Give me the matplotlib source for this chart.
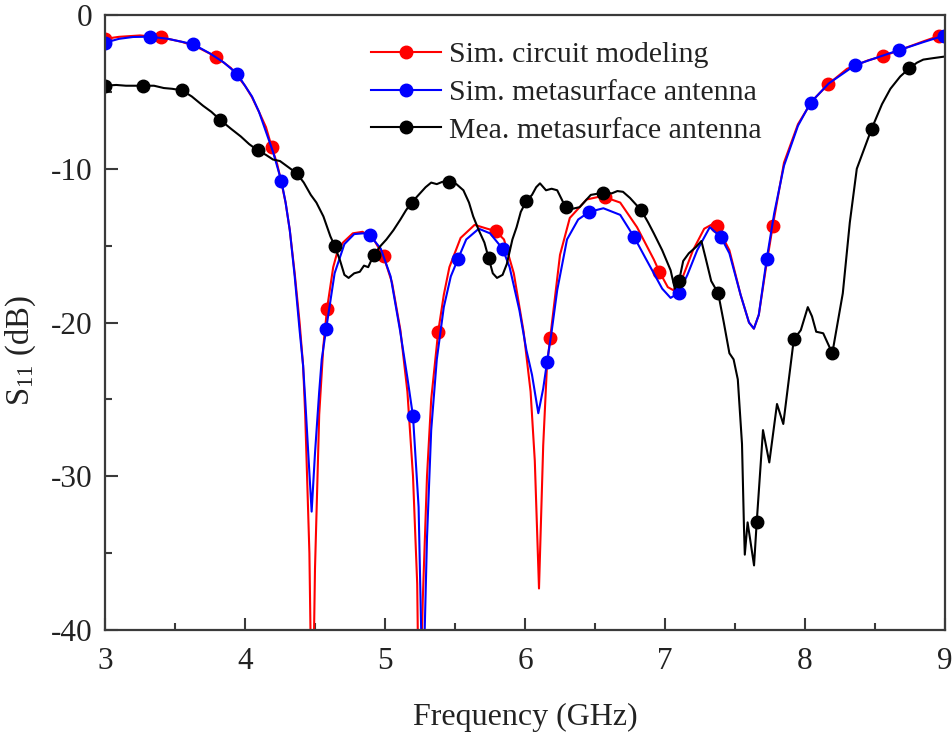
import numpy as np
import matplotlib
matplotlib.use("Agg")
import matplotlib.pyplot as plt

plt.rcParams['font.family'] = ['Liberation Serif', 'DejaVu Serif']
plt.rcParams['mathtext.fontset'] = 'custom'
plt.rcParams['mathtext.rm'] = 'Liberation Serif'
plt.rcParams['mathtext.it'] = 'Liberation Serif:italic'
plt.rcParams['axes.unicode_minus'] = False

# ---- Sim. circuit modeling (red) ----
red_x = [3.00, 3.10, 3.25, 3.40, 3.55, 3.65, 3.79, 3.90, 4.00, 4.05, 4.10, 4.15, 4.19, 4.23, 4.26,
         4.29, 4.32, 4.355, 4.39, 4.415, 4.43, 4.46, 4.48, 4.50, 4.53, 4.56, 4.586, 4.63, 4.66,
         4.70, 4.77, 4.84, 4.92, 4.99, 5.05, 5.11, 5.16, 5.20, 5.23, 5.245, 5.27, 5.30, 5.33,
         5.38, 5.42, 5.46, 5.54, 5.64, 5.73, 5.79, 5.85, 5.92, 5.99, 6.04, 6.07, 6.10, 6.13,
         6.157, 6.18, 6.25, 6.32, 6.44, 6.54, 6.57, 6.68, 6.80, 6.92, 6.96, 7.02, 7.06, 7.12,
         7.20, 7.28, 7.34, 7.37, 7.46, 7.54, 7.60, 7.635, 7.67, 7.72, 7.77, 7.85, 7.95, 8.05,
         8.167, 8.30, 8.45, 8.56, 8.70, 8.85, 8.96, 9.00]
red_y = [-1.55, -1.42, -1.33, -1.45, -1.75, -2.05, -2.70, -3.45, -4.6, -5.35, -6.3, -7.3, -8.56, -9.7, -10.9,
         -12.2, -14.0, -16.8, -20.0, -22.8, -26.0, -35.0, -48.0, -36.0, -26.0, -21.5, -19.1, -16.4, -15.4,
         -14.8, -14.2, -14.1, -14.6, -15.7, -17.4, -20.5, -24.5, -30.0, -37.0, -48.0, -38.0, -30.0, -25.0,
         -20.6, -18.2, -16.4, -14.5, -13.65, -13.9, -14.05, -14.6, -16.8, -20.6, -24.5, -29.0, -37.3, -28.0,
         -22.8, -21.0, -15.6, -13.2, -12.0, -11.8, -11.85, -12.2, -13.8, -15.9, -16.7, -17.7, -17.9, -17.2,
         -15.3, -13.9, -13.6, -13.7, -15.3, -18.2, -20.0, -20.4, -19.5, -16.5, -13.7, -9.6, -7.1, -5.6,
         -4.49, -3.5, -2.95, -2.67, -2.2, -1.7, -1.35, -1.3]
red_marks = [3.00, 3.40, 3.79, 4.19, 4.586, 4.99, 5.38, 5.79, 6.18, 6.57, 6.96, 7.37, 7.77,
             8.167, 8.56, 8.96]

# ---- Sim. metasurface antenna (blue) ----
blue_x = [3.00, 3.10, 3.20, 3.32, 3.45, 3.63, 3.75, 3.85, 3.945, 4.05, 4.10, 4.15, 4.20, 4.26,
          4.29, 4.32, 4.355, 4.39, 4.415, 4.43, 4.455, 4.476, 4.50, 4.53, 4.548, 4.58, 4.64, 4.71,
          4.78, 4.845, 4.89, 4.97, 5.04, 5.107, 5.16, 5.20, 5.24, 5.27, 5.30, 5.33, 5.37, 5.42,
          5.47, 5.52, 5.58, 5.67, 5.75, 5.84, 5.89, 5.96, 6.01, 6.05, 6.095, 6.13, 6.157, 6.19,
          6.23, 6.30, 6.38, 6.46, 6.56, 6.68, 6.78, 6.86, 6.92, 6.98, 7.04, 7.10, 7.16, 7.23,
          7.32, 7.40, 7.46, 7.54, 7.60, 7.635, 7.67, 7.726, 7.78, 7.85, 7.95, 8.04, 8.17, 8.36,
          8.52, 8.674, 8.85, 8.99, 9.00]
blue_y = [-1.8, -1.55, -1.43, -1.41, -1.55, -1.9, -2.5, -3.1, -3.84, -5.3, -6.3, -7.6, -8.9, -10.8,
          -12.2, -14.0, -17.0, -20.5, -22.8, -25.0, -29.0, -32.3, -28.5, -24.5, -22.4, -20.4, -16.8, -14.9,
          -14.25, -14.2, -14.3, -15.2, -17.0, -20.5, -23.6, -26.1, -32.0, -45.0, -34.0, -27.0, -22.4, -19.0,
          -17.0, -15.9, -14.6, -13.9, -14.2, -15.2, -16.4, -19.2, -21.8, -23.4, -25.9, -24.3, -22.6, -20.6,
          -17.9, -14.6, -13.3, -12.8, -12.57, -13.0, -14.45, -15.8, -16.8, -17.8, -18.4, -18.06, -16.9, -15.3,
          -13.8, -14.46, -15.5, -18.2, -20.0, -20.4, -19.5, -15.9, -12.9, -9.8, -7.2, -5.7, -4.45, -3.25,
          -2.75, -2.28, -1.75, -1.35, -1.3]
blue_marks = [3.00, 3.32, 3.63, 3.945, 4.26, 4.58, 4.89, 5.20, 5.52, 5.84, 6.157, 6.46, 6.78,
              7.10, 7.40, 7.726, 8.04, 8.36, 8.674, 8.99]

# ---- Mea. metasurface antenna (black) ----
black_x = [3.00, 3.08, 3.15, 3.27, 3.35, 3.42, 3.48, 3.55, 3.62, 3.70, 3.76, 3.82, 3.90, 3.97,
           4.03, 4.09, 4.15, 4.20, 4.25, 4.31, 4.37, 4.42, 4.47, 4.51, 4.56, 4.61, 4.64, 4.68,
           4.71, 4.74, 4.78, 4.82, 4.85, 4.88, 4.92, 4.97, 5.01, 5.06, 5.11, 5.15, 5.19, 5.24,
           5.29, 5.33, 5.37, 5.41, 5.46, 5.51, 5.56, 5.60, 5.63, 5.67, 5.71, 5.74, 5.77, 5.80,
           5.84, 5.87, 5.91, 5.94, 5.97, 6.01, 6.05, 6.08, 6.107, 6.15, 6.19, 6.23, 6.29, 6.34,
           6.39, 6.43, 6.47, 6.56, 6.62, 6.66, 6.70, 6.75, 6.83, 6.88, 6.92, 6.98, 7.04, 7.07,
           7.10, 7.13, 7.17, 7.22, 7.26, 7.29, 7.33, 7.38, 7.42, 7.46, 7.49, 7.52, 7.55, 7.564,
           7.57, 7.59, 7.636, 7.655, 7.70, 7.745, 7.80, 7.845, 7.92, 7.97, 8.02, 8.05, 8.08, 8.13,
           8.195, 8.27, 8.32, 8.37, 8.476, 8.55, 8.61, 8.68, 8.745, 8.80, 8.845, 8.92, 9.00]
black_y = [-4.6, -4.55, -4.6, -4.6, -4.6, -4.75, -4.8, -4.9, -5.3, -5.9, -6.3, -6.8, -7.4, -7.9,
           -8.4, -8.8, -9.1, -9.4, -9.5, -9.9, -10.3, -10.9, -11.7, -12.2, -13.1, -14.4, -15.0, -16.0,
           -16.9, -17.1, -16.8, -16.7, -16.3, -16.4, -15.6, -15.0, -14.6, -14.0, -13.3, -12.7, -12.2, -11.7,
           -11.2, -10.9, -11.0, -10.85, -10.84, -11.0, -11.4, -12.2, -13.1, -14.0, -14.8, -15.8, -16.8, -17.1,
           -16.9, -16.2, -14.6, -13.8, -12.8, -12.1, -11.7, -11.2, -10.95, -11.4, -11.3, -11.4, -12.5, -12.6,
           -12.5, -12.1, -11.7, -11.56, -11.6, -11.45, -11.5, -11.9, -12.7, -13.5, -14.2, -15.3, -16.6, -17.8,
           -17.3, -16.0, -15.5, -15.1, -14.7, -15.8, -17.3, -18.1, -20.0, -22.0, -22.4, -23.7, -27.9, -33.3,
           -35.1, -33.0, -35.8, -33.0, -27.0, -29.1, -25.3, -26.6, -21.1, -20.5, -19.0, -19.6, -20.6, -20.7,
           -22.0, -18.1, -13.5, -10.0, -7.4, -5.8, -4.8, -4.0, -3.47, -3.1, -2.9, -2.8, -2.7]
black_marks = [3.00, 3.27, 3.55, 3.82, 4.09, 4.37, 4.64, 4.92, 5.19, 5.46, 5.74, 6.01, 6.29,
               6.56, 6.83, 7.10, 7.38, 7.655, 7.92, 8.195, 8.476, 8.745]

labels = ["Sim. circuit modeling", "Sim. metasurface antenna", "Mea. metasurface antenna"]
x_ticks = [3, 4, 5, 6, 7, 8, 9]
y_ticks = [-40, -30, -20, -10, 0]


def mark_idx(xs, marks):
    xs = np.asarray(xs)
    return [int(np.argmin(np.abs(xs - m))) for m in marks]


fig = plt.figure(figsize=(9.53, 7.34), dpi=100)
ax = fig.add_axes([105 / 953, 1 - 630 / 734, 840 / 953, 615 / 734])

lw = 1.5
ms = 9
ax.plot(red_x, red_y, color='#ff0000', lw=lw, marker='o', ms=ms,
        markevery=mark_idx(red_x, red_marks), label=labels[0])
ax.plot(blue_x, blue_y, color='#0000ff', lw=lw, marker='o', ms=ms,
        markevery=mark_idx(blue_x, blue_marks), label=labels[1])
ax.plot(black_x, black_y, color='#000000', lw=lw, marker='o', ms=ms,
        markevery=mark_idx(black_x, black_marks), label=labels[2])

ax.set_xlim(3, 9)
ax.set_ylim(-40, 0)
ax.set_xticks(x_ticks)
ax.set_yticks(y_ticks)
ax.set_xticks([3.5, 4.5, 5.5, 6.5, 7.5, 8.5], minor=True)
ax.set_yticks([-35, -25, -15, -5], minor=True)

spine_c = '#3a3a3a'
for s in ax.spines.values():
    s.set_linewidth(1.6)
    s.set_color(spine_c)

ax.tick_params(which='both', direction='in', top=False, right=False, colors=spine_c,
               labelcolor='#222222')
ax.tick_params(which='major', length=9, width=1.5, labelsize=22.5, pad=9)
ax.tick_params(which='minor', length=5, width=1.5)
ax.tick_params(axis='x', which='major', pad=12)

ax.set_xlabel("Frequency (GHz)", fontsize=23, color='#222222')
ax.xaxis.label.set_verticalalignment('baseline')
ax.xaxis.set_label_coords(0.5, -0.1545)
ax.set_ylabel("S$_{11}$ (dB)", fontsize=23.5, color='#222222')
ax.yaxis.set_label_coords(-0.080, 0.455)

leg = ax.legend(loc='upper left', bbox_to_anchor=(0.317, 0.957), frameon=False,
                fontsize=21.5, handlelength=2.35, handletextpad=0.25, labelspacing=0.36,
                borderaxespad=0, borderpad=0)
for t in leg.get_texts():
    t.set_color('#222222')

fig.savefig("out.png", dpi=100)
